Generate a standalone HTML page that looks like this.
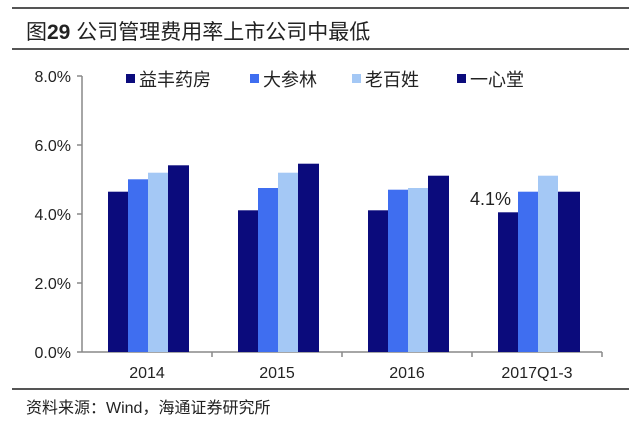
<!DOCTYPE html>
<html><head><meta charset="utf-8"><style>
body{margin:0;background:#fff;width:640px;height:418px;overflow:hidden;font-family:"Liberation Sans","Noto Sans CJK SC",sans-serif}
</style></head><body>
<svg width="640" height="418" xmlns="http://www.w3.org/2000/svg" font-family="Liberation Sans, Noto Sans CJK SC, sans-serif">
<line x1="12" y1="8" x2="629" y2="8" stroke="#555" stroke-width="2"/>
<line x1="12" y1="49" x2="629" y2="49" stroke="#555" stroke-width="2"/>
<text x="26" y="39" font-size="21" fill="#222">图<tspan font-weight="bold">29</tspan> 公司管理费用率上市公司中最低</text>
<g font-size="16" fill="#222" text-anchor="end">
<text x="71" y="82">8.0%</text><text x="71" y="151">6.0%</text><text x="71" y="220">4.0%</text><text x="71" y="358">0.0%</text><text x="71" y="289">2.0%</text>
</g>
<g stroke="#888" stroke-width="1.5">
<line x1="82" y1="76" x2="82" y2="352"/>
<line x1="77" y1="76" x2="82" y2="76"/><line x1="77" y1="145" x2="82" y2="145"/><line x1="77" y1="214" x2="82" y2="214"/><line x1="77" y1="283" x2="82" y2="283"/>
<line x1="77" y1="352" x2="602" y2="352"/>
<line x1="212" y1="352" x2="212" y2="357"/><line x1="342" y1="352" x2="342" y2="357"/><line x1="472" y1="352" x2="472" y2="357"/><line x1="602" y1="352" x2="602" y2="357"/>
</g>
<g>
<rect x="108" y="191.7" width="20" height="160.3" fill="#0b0b7c"/>
<rect x="128" y="179.3" width="20" height="172.7" fill="#3f6ef0"/>
<rect x="148" y="172.7" width="20" height="179.3" fill="#a4c8f5"/>
<rect x="168" y="165.3" width="21" height="186.7" fill="#0b0b7c"/>
<rect x="238" y="210.3" width="20" height="141.7" fill="#0b0b7c"/>
<rect x="258" y="188" width="20" height="164" fill="#3f6ef0"/>
<rect x="278" y="172.7" width="20" height="179.3" fill="#a4c8f5"/>
<rect x="298" y="163.7" width="21" height="188.3" fill="#0b0b7c"/>
<rect x="368" y="210.3" width="20" height="141.7" fill="#0b0b7c"/>
<rect x="388" y="189.7" width="20" height="162.3" fill="#3f6ef0"/>
<rect x="408" y="188" width="20" height="164" fill="#a4c8f5"/>
<rect x="428" y="175.7" width="21" height="176.3" fill="#0b0b7c"/>
<rect x="498" y="212.3" width="20" height="139.7" fill="#0b0b7c"/>
<rect x="518" y="191.7" width="20" height="160.3" fill="#3f6ef0"/>
<rect x="538" y="175.7" width="20" height="176.3" fill="#a4c8f5"/>
<rect x="558" y="191.7" width="22" height="160.3" fill="#0b0b7c"/>
</g>
<text x="470" y="205" font-size="18" fill="#222">4.1%</text>
<g font-size="16" fill="#222" text-anchor="middle">
<text x="147" y="378">2014</text><text x="277" y="378">2015</text><text x="407" y="378">2016</text><text x="537" y="378">2017Q1-3</text>
</g>
<g font-size="18" fill="#222">
<rect x="126" y="74" width="9" height="9" fill="#0b0b7c"/><text x="139" y="86">益丰药房</text>
<rect x="250" y="74" width="9" height="9" fill="#3f6ef0"/><text x="263" y="86">大参林</text>
<rect x="352" y="74" width="9" height="9" fill="#a4c8f5"/><text x="365" y="86">老百姓</text>
<rect x="457" y="74" width="9" height="9" fill="#0b0b7c"/><text x="470" y="86">一心堂</text>
</g>
<line x1="12" y1="389" x2="629" y2="389" stroke="#555" stroke-width="2"/>
<text x="26" y="413" font-size="16" fill="#222">资料来源：Wind，海通证券研究所</text>
</svg>
</body></html>
